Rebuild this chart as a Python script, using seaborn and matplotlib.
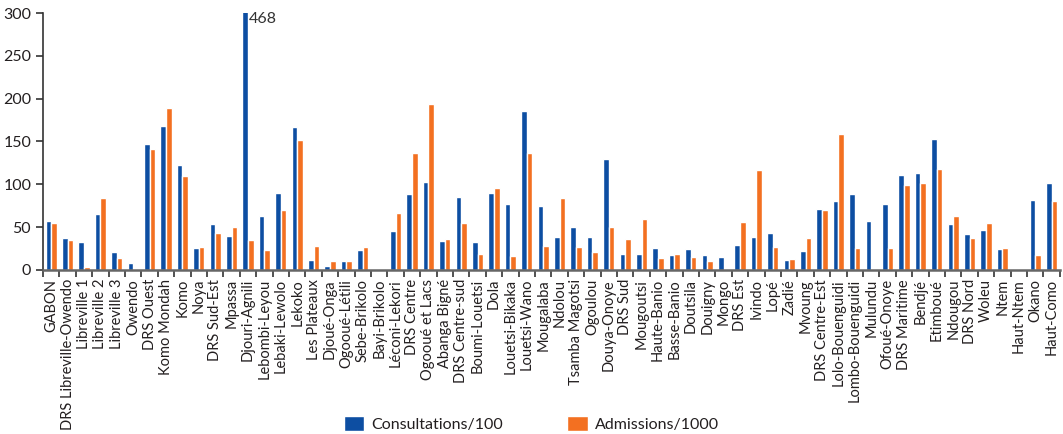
import pandas as pd
import matplotlib.pyplot as plt
import seaborn as sns

# District names (x axis)
districts = [
    "GABON", "DRS Libreville-Owendo", "Libreville 1", "Libreville 2", "Libreville 3",
    "Owendo", "DRS Ouest", "Komo Mondah", "Komo", "Noya", "DRS Sud-Est", "Mpassa",
    "Djouri-Agnili", "Lebombi-Leyou", "Lebaki-Lewolo", "Lekoko", "Les Plateaux",
    "Djoué-Onga", "Ogooué-Létili", "Sebe-Brikolo", "Bayi-Brikolo", "Léconi-Lekori",
    "DRS Centre", "Ogooué et Lacs", "Abanga Bigné", "DRS Centre-sud", "Boumi-Louetsi",
    "Dola", "Louetsi-Bikaka", "Louetsi-Wano", "Mougalaba", "Ndolou", "Tsamba Magotsi",
    "Ogoulou", "Douya-Onoye", "DRS Sud", "Mougoutsi", "Haute-Banio", "Basse-Banio",
    "Doutsila", "Douigny", "Mongo", "DRS Est", "Ivindo", "Lopé", "Zadié", "Mvoung",
    "DRS Centre-Est", "Lolo-Bouenguidi", "Lombo-Bouenguidi", "Mulundu", "Ofoué-Onoye",
    "DRS Maritime", "Bendjé", "Etimboué", "Ndougou", "DRS Nord", "Woleu", "Ntem",
    "Haut-Ntem", "Okano", "Haut-Como",
]

consultations = [
    57, 37, 33, 65, 21, 8, 147, 168, 123, 26, 54, 40,
    468, 63, 90, 167, 12, 5, 10.5, 23, 0, 46,
    89, 103, 34, 85, 33, 90, 77, 186, 75, 39, 50,
    39, 129, 19, 19, 26, 17.5, 24.5, 17.5, 15, 29, 39, 43, 12, 22,
    71, 81, 89, 57, 77, 111, 113, 153, 54, 42, 47, 24.5,
    1.2, 82, 102,
]

admissions = [
    55, 35, 4, 84, 14, 0, 141, 189, 110, 27, 43, 50,
    35, 23, 70, 152, 28, 10.5, 10.5, 27, 1.2, 67,
    137, 194, 36, 55, 19, 96, 16, 136, 28, 84, 27,
    21, 50, 36, 60, 14, 19, 15, 10.5, 0, 56, 117, 27, 13, 37,
    70, 159, 26, 0, 26, 99, 102, 118, 63, 37, 55, 26,
    0, 17.5, 80,
]

series_names = ["Consultations/100", "Admissions/1000"]

df = pd.concat([
    pd.DataFrame({"district": districts, "value": consultations, "serie": series_names[0]}),
    pd.DataFrame({"district": districts, "value": admissions, "serie": series_names[1]}),
])

sns.set_style("ticks")
plt.rcParams["font.family"] = ["Lato", "DejaVu Sans"]
text_color = "#231f20"

fig, ax = plt.subplots(figsize=(10.63, 4.34), dpi=100)
fig.subplots_adjust(left=0.0405, right=0.997, bottom=0.378, top=0.970)

sns.barplot(data=df, x="district", y="value", hue="serie", ax=ax,
            palette=["#0d4ea2", "#f37021"], width=0.68, gap=0,
            saturation=1, legend=True)

ax.set_ylim(0, 300)
ax.set_xlim(-0.5, len(districts) - 0.5)
ax.set_yticks(range(0, 301, 50))
ax.set_xlabel("")
ax.set_ylabel("")

# label for the clipped bar
i_big = districts.index("Djouri-Agnili")
ax.text(i_big + 0.02, 301, str(consultations[i_big]), ha="left", va="top",
        fontsize=11.5, color="#333333", clip_on=False)

# ticks between categories
ax.set_xticks([i - 0.5 for i in range(len(districts) + 1)], minor=True)
ax.tick_params(axis="x", which="major", length=0, rotation=90, labelsize=10.5,
               labelcolor=text_color, pad=6.5)
ax.tick_params(axis="x", which="minor", length=5, width=1.2, color="#333333")
ax.tick_params(axis="y", length=5, width=1.2, labelsize=11.5, labelcolor=text_color,
               color="#333333")

sns.despine(ax=ax)
ax.spines["bottom"].set_color("#666666")
ax.spines["bottom"].set_linewidth(1.8)
ax.spines["left"].set_color("#333333")
ax.spines["left"].set_linewidth(1.2)

leg = ax.legend(loc="lower center", bbox_to_anchor=(0.5, -0.01), bbox_transform=fig.transFigure,
                ncol=2, frameon=False, fontsize=11.5, handlelength=1.3, handleheight=1.1,
                columnspacing=4.0, handletextpad=0.45, borderaxespad=0.0)
for t in leg.get_texts():
    t.set_color(text_color)

fig.savefig("out.png", dpi=100)
